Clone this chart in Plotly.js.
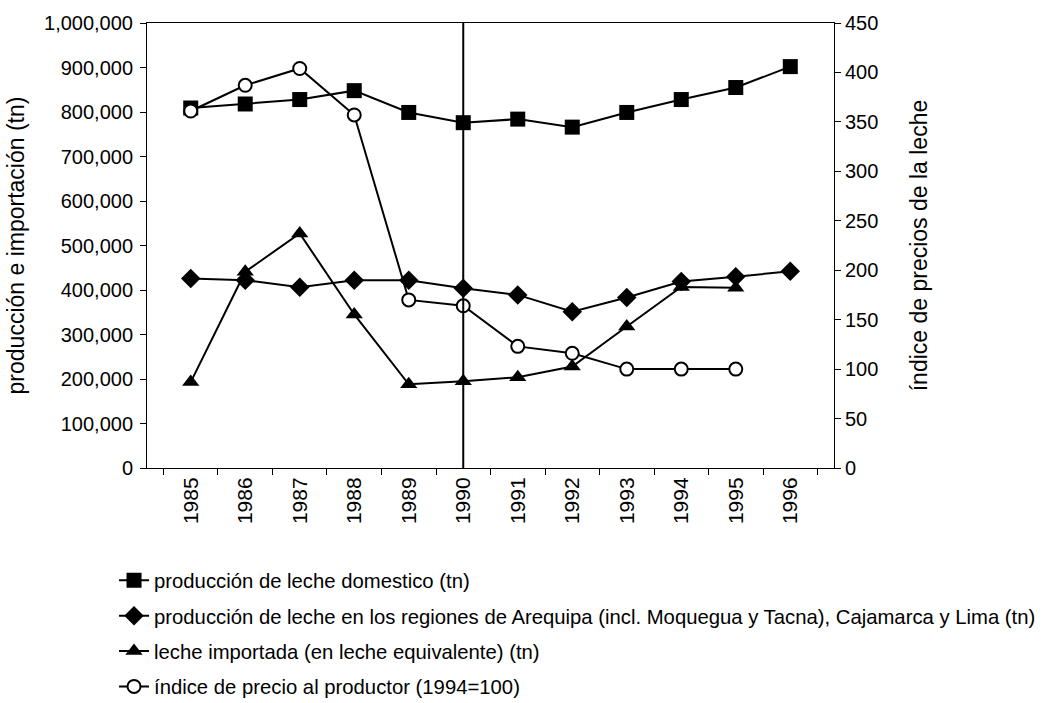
<!DOCTYPE html>
<html>
<head>
<meta charset="utf-8">
<script src="https://cdn.plot.ly/plotly-3.0.1.min.js"></script>
<style>html,body{margin:0;padding:0;background:#fff;}</style>
</head>
<body>
<div id="chart" style="width:1043px;height:703px;"></div>
<script>
// ---- data ----
var years = ['1985','1986','1987','1988','1989','1990','1991','1992','1993','1994','1995','1996'];
var domestic = [809000, 818000, 828000, 848000, 799000, 776000, 784000, 766000, 799000, 828000, 855000, 902000];
var regions  = [426000, 422000, 406000, 422000, 422000, 404000, 389000, 351000, 383000, 419000, 430000, 442000];
var imported = [193000, 441000, 527000, 345000, 188000, 195000, 204000, 228000, 318000, 407000, 405000, null];
var priceIdx = [361, 387, 404, 357, 170, 164, 123, 116, 100, 100, 100, null];
var seriesNames = [
  'producción de leche domestico (tn)',
  'producción de leche en los regiones de Arequipa (incl. Moquegua y Tacna), Cajamarca y Lima (tn)',
  'leche importada (en leche equivalente) (tn)',
  'índice de precio al productor (1994=100)'
];
var markerYear = '1990';
var leftTitle = 'producción e importación (tn)';
var rightTitle = 'índice de precios de la leche';

var FONT = 'Liberation Sans, Arial, Helvetica, sans-serif';
var lineStyle = {color: '#000', width: 2};

var traces = [
  {x: years, y: domestic, name: seriesNames[0], legendgroup: 'g1', type: 'scatter', mode: 'lines+markers',
   line: lineStyle, marker: {symbol: 'square', size: 15, color: '#000'}},
  {x: years, y: regions, name: seriesNames[1], legendgroup: 'g2', type: 'scatter', mode: 'lines+markers',
   line: lineStyle, marker: {symbol: 'diamond', size: 15, color: '#000'}},
  {x: years, y: imported, name: seriesNames[2], legendgroup: 'g3', type: 'scatter', mode: 'lines+markers',
   line: lineStyle, marker: {symbol: 'triangle-up', size: 15, color: '#000'}},
  {x: years, y: priceIdx, name: seriesNames[3], legendgroup: 'g4', type: 'scatter', mode: 'lines+markers', yaxis: 'y2',
   line: lineStyle, marker: {symbol: 'circle', size: 13, color: '#fff', line: {color: '#000', width: 2}}}
];

var layout = {
  width: 1043, height: 703,
  paper_bgcolor: '#fff', plot_bgcolor: '#fff',
  font: {family: FONT, size: 20, color: '#000'},
  margin: {l: 147, r: 209, t: 23, b: 235, autoexpand: false},
  showlegend: true,
  legend: {x: -0.048, y: -0.208, xanchor: 'left', yanchor: 'top', traceorder: 'grouped', tracegroupgap: 6,
           font: {family: FONT, size: 20.3, color: '#000'}, bgcolor: 'rgba(0,0,0,0)'},
  xaxis: {type: 'category', showline: true, linecolor: '#000', linewidth: 1, mirror: true,
          ticks: 'outside', tickson: 'boundaries', ticklen: 6, tickcolor: '#000',
          tickangle: -90, showgrid: false, zeroline: false,
          tickfont: {family: FONT, size: 21, color: '#000'}},
  yaxis: {range: [0, 1000000], dtick: 100000, tickformat: ',d', showline: true, linecolor: '#000', linewidth: 1,
          ticks: 'outside', ticklen: 6, tickcolor: '#000', showgrid: false, zeroline: false, ticklabelstandoff: 3,
          tickfont: {family: FONT, size: 20, color: '#000'},
          title: {text: leftTitle, font: {family: FONT, size: 23, color: '#000'}, standoff: 12}},
  yaxis2: {range: [0, 450], dtick: 50, overlaying: 'y', side: 'right', showline: true, linecolor: '#000', linewidth: 1,
           ticks: 'outside', ticklen: 6, tickcolor: '#000', showgrid: false, zeroline: false,
           tickfont: {family: FONT, size: 20, color: '#000'},
           title: {text: rightTitle, font: {family: FONT, size: 23, color: '#000'}, standoff: 33}},
  shapes: [{type: 'line', xref: 'x', yref: 'paper', x0: years.indexOf(markerYear), x1: years.indexOf(markerYear),
            y0: 0, y1: 1, line: {color: '#000', width: 2}}]
};

Plotly.newPlot('chart', traces, layout, {displayModeBar: false, staticPlot: true});
</script>
</body>
</html>
